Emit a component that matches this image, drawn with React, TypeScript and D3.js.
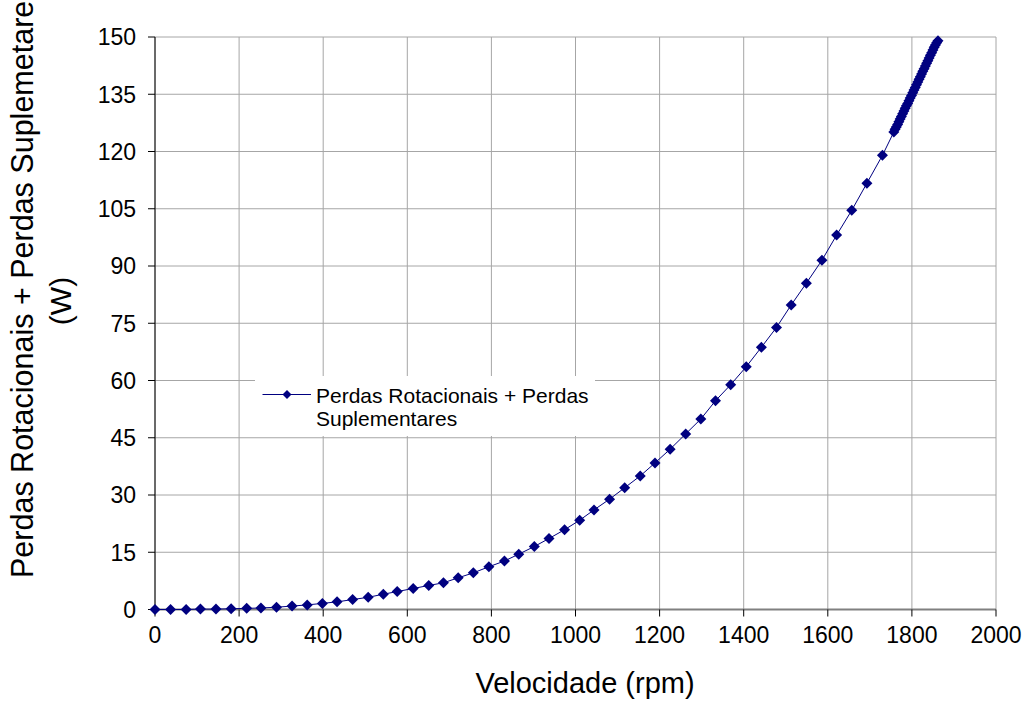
import * as d3 from 'd3'

// speed (rpm) and losses (W)
const speedSweep = [
  0, 37, 74, 108, 145, 181, 218, 252, 289, 326, 362, 398, 433, 470, 507, 543, 576, 614, 651,
  686, 721, 757, 794, 831, 865, 902, 937, 974, 1010, 1044, 1081, 1117, 1154, 1189, 1225,
  1262, 1298, 1333, 1369, 1406, 1442, 1478, 1513, 1549, 1586, 1621, 1657, 1693, 1730,
]
const lossSweep = [
  0, 0, 0, 0.1, 0.1, 0.2, 0.3, 0.4, 0.6, 0.9, 1.2, 1.6, 2.0, 2.6, 3.2, 4.0, 4.7, 5.5, 6.3,
  7.0, 8.3, 9.6, 11.2, 12.7, 14.5, 16.5, 18.6, 20.9, 23.4, 26.1, 28.9, 31.9, 35.0, 38.4, 42.0,
  46.0, 49.9, 54.7, 58.9, 63.6, 68.7, 73.9, 79.8, 85.5, 91.5, 98.1, 104.6, 111.7, 119.0,
]
// dense cluster near the top
const speedCluster = [
  1757, 1760, 1763, 1766, 1769, 1772, 1775, 1778, 1781, 1784, 1787, 1790, 1793, 1796, 1799,
  1802, 1805, 1808, 1811, 1814, 1817, 1820, 1823, 1826, 1829, 1832, 1835, 1838, 1841, 1844,
  1847, 1850, 1853, 1856, 1859, 1862,
]
const lossCluster = [
  125.1, 125.8, 126.4, 127.1, 127.8, 128.5, 129.2, 129.9, 130.6, 131.3, 132.0, 132.6, 133.3,
  134.0, 134.7, 135.4, 136.1, 136.8, 137.5, 138.2, 138.9, 139.6, 140.3, 141.0, 141.7, 142.4,
  143.1, 143.8, 144.5, 145.2, 145.9, 146.6, 147.3, 147.9, 148.5, 149.0,
]

const xTicks = [0, 200, 400, 600, 800, 1000, 1200, 1400, 1600, 1800, 2000]
const yTicks = [0, 15, 30, 45, 60, 75, 90, 105, 120, 135, 150]

const xTitle = 'Velocidade (rpm)'
const yTitle = ['Perdas Rotacionais + Perdas Suplemetares', '(W)']
const legendLines = ['Perdas Rotacionais + Perdas', 'Suplementares']

const W = 1031
const H = 708
const FONT = '"Liberation Sans", Arial, sans-serif'
const NAVY = '#000080'
const GRID = '#a6a6a6'

type Pt = { s: number; p: number }

function Diamond({ cx, cy, r }: { cx: number; cy: number; r: number }) {
  return <path d={`M${cx},${cy - r}L${cx + r},${cy}L${cx},${cy + r}L${cx - r},${cy}Z`} fill={NAVY} />
}

export default function App() {
  const left = 155
  const right = 996
  const top = 37
  const bottom = 609.5

  const x = d3.scaleLinear().domain([0, 2000]).range([left, right])
  const y = d3.scaleLinear().domain([0, 150]).range([bottom, top])

  const data: Pt[] = [
    ...speedSweep.map((s, i) => ({ s, p: lossSweep[i] })),
    ...speedCluster.map((s, i) => ({ s, p: lossCluster[i] })),
  ]

  const line = d3
    .line<Pt>()
    .x((d) => x(d.s))
    .y((d) => y(d.p))

  // legend box
  const lx = 255
  const ly = 376

  return (
    <div style={{ position: 'absolute', left: 0, top: 0 }}>
      <svg width={W} height={H} style={{ display: 'block', background: '#fff' }} fontFamily={FONT}>
        {/* grid */}
        {yTicks.map((t) => (
          <line key={'gy' + t} x1={left} x2={right} y1={y(t)} y2={y(t)} stroke={GRID} strokeWidth={1} />
        ))}
        {xTicks.map((t) => (
          <line key={'gx' + t} x1={x(t)} x2={x(t)} y1={top} y2={bottom} stroke={GRID} strokeWidth={1} />
        ))}

        {/* axes */}
        <line x1={left} x2={right} y1={bottom} y2={bottom} stroke="#808080" strokeWidth={2} />
        <line x1={left} x2={left} y1={top} y2={bottom} stroke="#000" strokeWidth={1} />
        {yTicks.map((t) => (
          <g key={'ty' + t}>
            <line x1={left - 7} x2={left} y1={y(t)} y2={y(t)} stroke="#000" />
            <text x={136} y={y(t)} dy="0.36em" textAnchor="end" fontSize={23}>
              {t}
            </text>
          </g>
        ))}
        {xTicks.map((t) => (
          <g key={'tx' + t}>
            <line x1={x(t)} x2={x(t)} y1={bottom} y2={bottom + 7} stroke="#000" />
            <text x={x(t)} y={643} textAnchor="middle" fontSize={23}>
              {t}
            </text>
          </g>
        ))}

        {/* series */}
        <path d={line(data) ?? ''} fill="none" stroke={NAVY} strokeWidth={1} />
        {data.map((d, i) => (
          <Diamond key={i} cx={x(d.s)} cy={y(d.p)} r={5.5} />
        ))}

        {/* legend */}
        <rect x={lx} y={ly} width={340} height={60} fill="#fff" />
        <line x1={262.5} x2={311} y1={394.5} y2={394.5} stroke={NAVY} />
        <Diamond cx={287} cy={394.5} r={4.5} />
        {legendLines.map((s, i) => (
          <text key={s} x={316} y={403 + i * 23} fontSize={21}>
            {s}
          </text>
        ))}

        {/* titles */}
        <text x={585} y={693} textAnchor="middle" fontSize={29}>
          {xTitle}
        </text>
        <text transform="translate(33,578) rotate(-90)" textAnchor="start" fontSize={30.5}>
          {yTitle[0]}
        </text>
        <text transform="translate(71,301) rotate(-90)" textAnchor="middle" fontSize={30}>
          {yTitle[1]}
        </text>
      </svg>
    </div>
  )
}
